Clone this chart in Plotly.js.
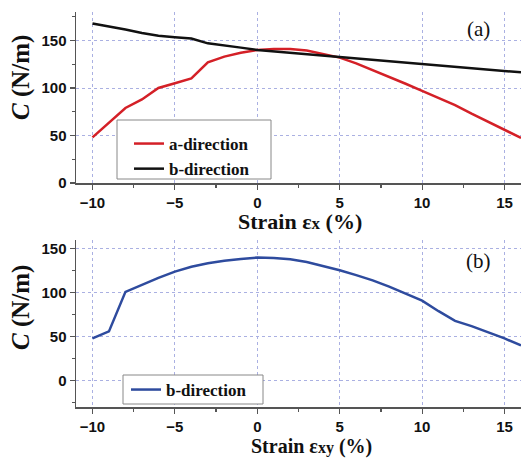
<!DOCTYPE html>
<html><head><meta charset="utf-8">
<script src="https://cdn.plot.ly/plotly-3.0.1.min.js"></script>
<style>html,body{margin:0;padding:0;background:#fff}#plot{width:521px;height:458px}</style>
</head><body><div id="plot"></div>
<script>
const strain = [-10,-9,-8,-7,-6,-5,-4,-3,-2,-1,0,1,2,3,4,5,6,7,8,9,10,11,12,13,14,15,16];
const cA_a = [48,63,79,88,100,105,110,127,133,137,140,141,141,139.5,136,132,126,119,112,104.5,97,89.5,82,73,64.5,55.5,47.5];
const cA_b = [168,165,161.5,158,155,153.5,152,147,145,142.5,140,138.5,137,135.5,134,132.5,131,129.5,128,126.5,125,123.5,122,120.5,119.5,118,116.5];
const cB_b = [48,56,101,109,117,124,129.5,133.5,136.5,138.5,140,139.5,138,135,130.5,125.5,120,114,107,99,91,79,68,62,55,48,40];

const serif = "Liberation Serif, Times New Roman, serif";
const sans = "Liberation Sans, Arial, sans-serif";
const W = 445, B = 411, H = 399, L = 76;
const px = v => (v - L) / W;
const py = v => (B - v) / H;

const traces = [
  {x: strain, y: cA_a, type:'scatter', mode:'lines', name:'a-direction', line:{color:'#d42027', width:2.5}, xaxis:'x', yaxis:'y', legend:'legend'},
  {x: strain, y: cA_b, type:'scatter', mode:'lines', name:'b-direction', line:{color:'#111111', width:2.5}, xaxis:'x', yaxis:'y', legend:'legend'},
  {x: strain, y: cB_b, type:'scatter', mode:'lines', name:'b-direction', line:{color:'#2e4b9e', width:2.5}, xaxis:'x2', yaxis:'y2', legend:'legend2'}
];

const xcommon = {range:[-11,16], tickvals:[-10,-5,0,5,10,15], ticks:'outside', ticklen:5, tickwidth:1.2, tickcolor:'#555',
  showline:true, linecolor:'#555', linewidth:1.5, showgrid:true, gridcolor:'#aab0e2', griddash:'dot', gridwidth:1,
  zeroline:false, tickfont:{family:sans, size:15, color:'#111', weight:'bold'},
  minor:{tickvals:[-7.5,-2.5,2.5,7.5,12.5], ticks:'outside', ticklen:3, tickcolor:'#555', showgrid:false}};
const ycommon = {tickvals:[0,50,100,150], ticks:'outside', ticklen:5, tickwidth:1.2, tickcolor:'#555',
  showline:true, linecolor:'#555', linewidth:1.5, showgrid:true, gridcolor:'#aab0e2', griddash:'dot', gridwidth:1,
  zeroline:false, tickfont:{family:sans, size:15, color:'#111', weight:'bold'}};

const layout = {
  width:521, height:458, margin:{l:76, r:0, t:12, b:47},
  paper_bgcolor:'#fff', plot_bgcolor:'#fff', showlegend:true,
  xaxis: Object.assign({}, xcommon, {anchor:'y', domain:[0,1]}),
  yaxis: Object.assign({}, ycommon, {anchor:'x', domain:[0.5714,1], range:[0,180],
    minor:{tickvals:[25,75,125,175], ticks:'outside', ticklen:3, tickcolor:'#555', showgrid:false}}),
  xaxis2: Object.assign({}, xcommon, {anchor:'y2', domain:[0,1]}),
  yaxis2: Object.assign({}, ycommon, {anchor:'x2', domain:[py(407),py(240)], range:[-30,160],
    minor:{tickvals:[-25,25,75,125], ticks:'outside', ticklen:3, tickcolor:'#555', showgrid:false}}),
  legend: {x:px(129), y:py(126), xanchor:'left', yanchor:'top', bgcolor:'rgba(0,0,0,0)', borderwidth:0,
    font:{family:serif, size:17, color:'#111', weight:'bold'}, tracegroupgap:0, itemwidth:30},
  legend2: {x:px(126), y:py(372), xanchor:'left', yanchor:'top', bgcolor:'rgba(0,0,0,0)', borderwidth:0,
    font:{family:serif, size:17, color:'#111', weight:'bold'}, itemwidth:30},
  shapes: [
    {type:'rect', xref:'paper', yref:'paper', x0:px(117), x1:px(271), y0:py(179), y1:py(120), line:{color:'#888', width:1}, fillcolor:'#fff', layer:'above'},
    {type:'rect', xref:'paper', yref:'paper', x0:px(123), x1:px(263), y0:py(404), y1:py(375), line:{color:'#888', width:1}, fillcolor:'#fff', layer:'above'}
  ],
  annotations: [
    {text:'(a)', xref:'paper', yref:'paper', x:px(478), y:py(29), showarrow:false, xanchor:'center', yanchor:'middle', font:{family:serif, size:21, color:'#111'}},
    {text:'(b)', xref:'paper', yref:'paper', x:px(478), y:py(261), showarrow:false, xanchor:'center', yanchor:'middle', font:{family:serif, size:21, color:'#111'}},
    {text:'Strain ε<span style="font-size:17px">x</span> (%)', xref:'paper', yref:'paper', x:px(300), y:py(221), showarrow:false, borderpad:0, xanchor:'center', yanchor:'middle', font:{family:serif, size:22, color:'#111', weight:'bold'}},
    {text:'Strain ε<span style="font-size:16px">xy</span> (%)', xref:'paper', yref:'paper', x:px(311), y:py(446), showarrow:false, borderpad:0, xanchor:'center', yanchor:'middle', font:{family:serif, size:20, color:'#111', weight:'bold'}},
    {text:'<i>C</i> (N/m)', xref:'paper', yref:'paper', x:-(L-21)/W, y:py(78), showarrow:false, borderpad:0, textangle:-90, xanchor:'center', yanchor:'middle', font:{family:serif, size:25, color:'#111', weight:'bold'}},
    {text:'<i>C</i> (N/m)', xref:'paper', yref:'paper', x:-(L-21)/W, y:py(308), showarrow:false, borderpad:0, textangle:-90, xanchor:'center', yanchor:'middle', font:{family:serif, size:25, color:'#111', weight:'bold'}}
  ]
};
Plotly.newPlot('plot', traces, layout, {staticPlot:true});
</script></body></html>
